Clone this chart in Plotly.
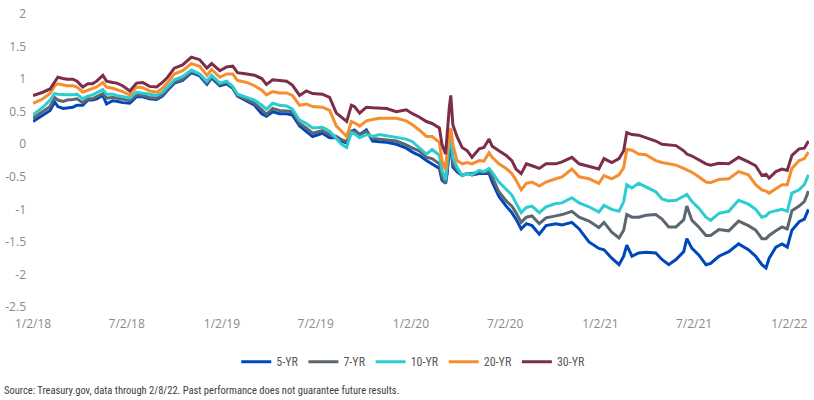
import plotly.graph_objects as go

dates = [
    "2018-01-02", "2018-01-21", "2018-02-04", "2018-02-13", "2018-02-19", "2018-03-01", "2018-03-09",
    "2018-03-20", "2018-03-28", "2018-04-08", "2018-04-18", "2018-04-27", "2018-05-05", "2018-05-17",
    "2018-05-24", "2018-06-05", "2018-06-13", "2018-06-24", "2018-07-08", "2018-07-21", "2018-08-02",
    "2018-08-15", "2018-08-29", "2018-09-09", "2018-09-19", "2018-10-02", "2018-10-18", "2018-11-04",
    "2018-11-20", "2018-12-04", "2018-12-13", "2018-12-29", "2019-01-11", "2019-01-23", "2019-02-01",
    "2019-02-19", "2019-03-06", "2019-03-20", "2019-03-29", "2019-04-10", "2019-04-23", "2019-05-07",
    "2019-05-18", "2019-06-01", "2019-06-14", "2019-06-26", "2019-07-15", "2019-07-29", "2019-08-11",
    "2019-08-21", "2019-08-31", "2019-09-09", "2019-09-15", "2019-09-25", "2019-10-08", "2019-10-20",
    "2019-11-02", "2019-11-16", "2019-12-05", "2019-12-24", "2020-01-05", "2020-01-18", "2020-02-01",
    "2020-02-12", "2020-02-26", "2020-03-02", "2020-03-09", "2020-03-12", "2020-03-16", "2020-03-19",
    "2020-03-23", "2020-03-31", "2020-04-10", "2020-04-20", "2020-04-29", "2020-05-13", "2020-05-22",
    "2020-06-01", "2020-06-07", "2020-06-20", "2020-07-04", "2020-07-15", "2020-07-23", "2020-08-02",
    "2020-08-12", "2020-08-23", "2020-09-06", "2020-09-19", "2020-10-08", "2020-10-20", "2020-11-08",
    "2020-11-22", "2020-12-11", "2020-12-30", "2021-01-09", "2021-01-24", "2021-02-07", "2021-02-16",
    "2021-02-22", "2021-03-04", "2021-03-17", "2021-03-31", "2021-04-19", "2021-05-01", "2021-05-14",
    "2021-05-28", "2021-06-12", "2021-06-18", "2021-06-28", "2021-07-11", "2021-07-25", "2021-08-03",
    "2021-08-19", "2021-09-07", "2021-09-26", "2021-10-15", "2021-10-29", "2021-11-10", "2021-11-18",
    "2021-11-24", "2021-12-07", "2021-12-19", "2021-12-29", "2022-01-07", "2022-01-21", "2022-01-31",
    "2022-02-08",
]

yr5 = [
    0.35, 0.45, 0.52, 0.65, 0.58, 0.55, 0.56, 0.57, 0.60, 0.60, 0.68, 0.68, 0.70, 0.75,
    0.62, 0.67, 0.66, 0.64, 0.63, 0.73, 0.73, 0.70, 0.69, 0.74, 0.83, 0.94, 0.98, 1.10,
    1.05, 0.92, 1.02, 0.90, 0.93, 0.86, 0.74, 0.66, 0.60, 0.47, 0.43, 0.50, 0.47, 0.47,
    0.45, 0.28, 0.20, 0.12, 0.17, 0.10, 0.10, 0.05, 0.02, 0.20, 0.22, 0.15, 0.22, 0.05,
    0.04, 0.03, 0.00, -0.06, -0.12, -0.17, -0.25, -0.30, -0.37, -0.55, -0.60, -0.45, -0.10, 0.00,
    -0.35, -0.42, -0.48, -0.45, -0.47, -0.45, -0.45, -0.45, -0.58, -0.80, -0.95, -1.05, -1.15, -1.30,
    -1.22, -1.25, -1.38, -1.25, -1.22, -1.24, -1.20, -1.30, -1.50, -1.60, -1.62, -1.75, -1.85, -1.72,
    -1.55, -1.72, -1.67, -1.66, -1.67, -1.77, -1.85, -1.77, -1.65, -1.45, -1.60, -1.70, -1.85, -1.83,
    -1.72, -1.65, -1.53, -1.62, -1.72, -1.85, -1.90, -1.75, -1.58, -1.53, -1.58, -1.32, -1.19, -1.15,
    -1.00,
]

yr7 = [
    0.40, 0.50, 0.58, 0.72, 0.68, 0.66, 0.68, 0.69, 0.70, 0.64, 0.70, 0.70, 0.73, 0.78,
    0.71, 0.72, 0.71, 0.69, 0.67, 0.76, 0.75, 0.72, 0.71, 0.76, 0.85, 0.96, 1.00, 1.12,
    1.07, 0.94, 1.04, 0.92, 0.95, 0.87, 0.75, 0.69, 0.63, 0.53, 0.46, 0.55, 0.52, 0.51,
    0.50, 0.32, 0.25, 0.17, 0.21, 0.15, 0.12, 0.07, 0.04, 0.20, 0.20, 0.15, 0.20, 0.09,
    0.08, 0.07, 0.05, -0.01, -0.06, -0.10, -0.20, -0.22, -0.30, -0.50, -0.60, -0.40, -0.05, 0.05,
    -0.30, -0.40, -0.47, -0.45, -0.45, -0.43, -0.43, -0.42, -0.50, -0.73, -0.87, -0.95, -1.05, -1.20,
    -1.12, -1.10, -1.22, -1.13, -1.10, -1.08, -1.03, -1.12, -1.18, -1.28, -1.20, -1.35, -1.44, -1.32,
    -1.08, -1.12, -1.12, -1.09, -1.08, -1.15, -1.27, -1.27, -1.16, -0.95, -1.17, -1.27, -1.40, -1.40,
    -1.31, -1.33, -1.18, -1.25, -1.32, -1.45, -1.45, -1.40, -1.33, -1.27, -1.30, -1.02, -0.95, -0.88,
    -0.72,
]

yr10 = [
    0.45, 0.57, 0.68, 0.78, 0.77, 0.76, 0.76, 0.76, 0.77, 0.70, 0.74, 0.76, 0.79, 0.84,
    0.77, 0.77, 0.75, 0.73, 0.71, 0.80, 0.79, 0.77, 0.75, 0.80, 0.88, 0.99, 1.04, 1.14,
    1.08, 0.97, 1.06, 0.94, 0.97, 0.89, 0.77, 0.72, 0.68, 0.60, 0.54, 0.63, 0.60, 0.59,
    0.54, 0.37, 0.32, 0.25, 0.26, 0.20, 0.08, 0.00, -0.05, 0.18, 0.16, 0.10, 0.15, 0.12,
    0.15, 0.13, 0.10, 0.08, 0.04, -0.05, -0.15, -0.08, -0.17, -0.40, -0.55, -0.30, 0.05, 0.15,
    -0.20, -0.35, -0.48, -0.45, -0.47, -0.40, -0.42, -0.37, -0.43, -0.58, -0.70, -0.78, -0.90, -1.05,
    -0.97, -0.95, -1.05, -0.96, -0.91, -0.90, -0.82, -0.90, -0.96, -1.04, -0.94, -1.00, -1.03, -0.88,
    -0.62, -0.67, -0.60, -0.66, -0.73, -0.84, -0.87, -0.86, -0.80, -0.77, -0.88, -0.98, -1.12, -1.17,
    -1.06, -1.03, -0.86, -0.92, -1.00, -1.12, -1.10, -1.05, -1.02, -1.00, -1.03, -0.75, -0.70, -0.62,
    -0.47,
]

yr20 = [
    0.63, 0.70, 0.78, 0.90, 0.93, 0.91, 0.90, 0.90, 0.88, 0.80, 0.83, 0.85, 0.88, 0.95,
    0.88, 0.86, 0.84, 0.81, 0.76, 0.88, 0.87, 0.82, 0.80, 0.86, 0.95, 1.08, 1.13, 1.24,
    1.20, 1.06, 1.15, 1.03, 1.08, 1.08, 0.98, 0.95, 0.90, 0.83, 0.76, 0.81, 0.79, 0.79,
    0.75, 0.60, 0.62, 0.58, 0.57, 0.52, 0.28, 0.20, 0.12, 0.35, 0.33, 0.28, 0.36, 0.38,
    0.40, 0.40, 0.40, 0.36, 0.30, 0.22, 0.12, 0.12, 0.03, -0.25, -0.40, -0.10, 0.15, 0.25,
    0.00, -0.25, -0.30, -0.28, -0.30, -0.25, -0.26, -0.13, -0.20, -0.30, -0.37, -0.45, -0.55, -0.70,
    -0.60, -0.58, -0.64, -0.58, -0.53, -0.50, -0.38, -0.50, -0.53, -0.60, -0.48, -0.53, -0.47, -0.36,
    -0.08, -0.09, -0.15, -0.16, -0.25, -0.28, -0.30, -0.32, -0.37, -0.39, -0.43, -0.50, -0.58, -0.59,
    -0.54, -0.53, -0.42, -0.47, -0.62, -0.70, -0.72, -0.75, -0.68, -0.62, -0.62, -0.37, -0.25, -0.22,
    -0.12,
]

yr30 = [
    0.75, 0.80, 0.85, 0.97, 1.03, 1.01, 1.00, 1.00, 0.97, 0.88, 0.93, 0.93, 0.97, 1.06,
    0.97, 0.95, 0.94, 0.90, 0.82, 0.94, 0.95, 0.89, 0.88, 0.95, 1.03, 1.17, 1.22, 1.34,
    1.30, 1.17, 1.24, 1.13, 1.19, 1.20, 1.10, 1.08, 1.06, 1.01, 0.92, 0.99, 0.98, 0.97,
    0.91, 0.75, 0.82, 0.78, 0.77, 0.72, 0.48, 0.42, 0.35, 0.60, 0.58, 0.48, 0.57, 0.56,
    0.55, 0.55, 0.50, 0.53, 0.47, 0.42, 0.35, 0.32, 0.25, 0.00, -0.15, 0.20, 0.55, 0.75,
    0.30, 0.12, -0.05, -0.10, -0.20, -0.07, -0.05, 0.08, -0.03, -0.10, -0.17, -0.25, -0.38, -0.45,
    -0.30, -0.33, -0.37, -0.30, -0.30, -0.27, -0.20, -0.30, -0.34, -0.38, -0.22, -0.28, -0.22, -0.10,
    0.18, 0.15, 0.14, 0.10, 0.05, 0.00, -0.01, -0.02, -0.10, -0.15, -0.18, -0.24, -0.30, -0.32,
    -0.29, -0.30, -0.20, -0.27, -0.33, -0.48, -0.46, -0.52, -0.42, -0.38, -0.40, -0.17, -0.07, -0.06,
    0.05,
]

series_names = ["5-YR", "7-YR", "10-YR", "20-YR", "30-YR"]
series_values = [yr5, yr7, yr10, yr20, yr30]
series_colors = ["#0047BB", "#5B6670", "#2CCCD3", "#F68D2E", "#7C2D4A"]

xtick_dates = ["2018-01-02", "2018-07-02", "2019-01-02", "2019-07-02", "2020-01-02",
               "2020-07-02", "2021-01-02", "2021-07-02", "2022-01-02"]
xtick_labels = ["1/2/18", "7/2/18", "1/2/19", "7/2/19", "1/2/20", "7/2/20", "1/2/21", "7/2/21", "1/2/22"]
ytick_vals = [2, 1.5, 1, 0.5, 0, -0.5, -1, -1.5, -2, -2.5]
ytick_labels = ["2", "1.5", "1", "0.5", "0", "-0.5", "-1", "-1.5", "-2", "-2.5"]

source_text = "Source: Treasury.gov, data through 2/8/22. Past performance does not guarantee future results."

fig = go.Figure()
for name, vals, color in zip(series_names, series_values, series_colors):
    fig.add_trace(go.Scatter(x=dates, y=vals, name=name, mode="lines",
                             line=dict(color=color, width=3)))

tick_font = dict(family="Open Sans, Liberation Sans, sans-serif", size=12, color="#8A8A8A")
narrow = "Liberation Sans Narrow, Roboto Condensed, Liberation Sans, sans-serif"

fig.update_layout(
    width=814, height=400,
    margin=dict(l=33, r=5, t=7, b=93),
    plot_bgcolor="white", paper_bgcolor="white",
    showlegend=True,
    legend=dict(orientation="h", x=0.49, xanchor="center", y=-0.187, yanchor="middle",
                font=dict(family=narrow, size=12, color="#595959"),
                itemwidth=30, tracegroupgap=0),
    xaxis=dict(type="date", range=["2018-01-02", "2022-02-09"],
               tickmode="array", tickvals=xtick_dates, ticktext=xtick_labels,
               showgrid=False, zeroline=False, showline=False, ticks="",
               ticklabelstandoff=8, tickfont=tick_font, ticklabeloverflow="allow"),
    yaxis=dict(range=[-2.5, 2.002], tickmode="array", tickvals=ytick_vals, ticktext=ytick_labels,
               showgrid=False, zeroline=False, showline=False, ticks="",
               ticklabelstandoff=6, tickfont=tick_font, ticklabeloverflow="allow"),
    annotations=[dict(text=source_text, xref="paper", yref="paper",
                      x=-31 / 776, y=-85 / 300, xanchor="left", yanchor="middle",
                      showarrow=False, font=dict(family=narrow, size=10.5, color="#404040"))],
)

fig.write_html("out.html")
